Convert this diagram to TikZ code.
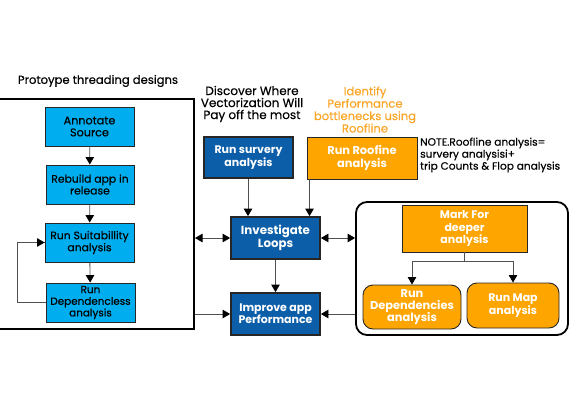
\documentclass[tikz,border=0pt]{standalone}
\usepackage{fontspec}
\setmainfont{Poppins}
\newfontfamily\med{Poppins}[FakeBold=0.4]
\usetikzlibrary{arrows.meta,positioning}
\definecolor{cyanbox}{RGB}{0,174,239}
\definecolor{darkblue}{RGB}{12,94,168}
\definecolor{orangebox}{RGB}{255,165,0}
\definecolor{orangetext}{RGB}{250,166,40}
\definecolor{conn}{RGB}{80,80,80}
\tikzset{
  tip/.tip={Triangle[width=8.5pt,length=7.5pt,color=black]},
  cbox/.style={draw=black!85, line width=0.9pt, fill=cyanbox, align=center, inner sep=0pt, text=black},
  dbox/.style={draw=black!85, line width=1.8pt, fill=darkblue, align=center, inner sep=0pt, text=white},
  obox/.style={draw=black!85, line width=0.9pt, fill=orangebox, align=center, inner sep=0pt, text=white},
  rbox/.style={obox, rounded corners=10pt},
  lbl/.style={align=center, inner sep=0pt},
  arr/.style={draw=conn, line width=0.8pt, -tip},
  darr/.style={draw=conn, line width=0.8pt, tip-tip},
  plain/.style={draw=conn, line width=0.8pt}
}
\begin{document}
\begin{tikzpicture}[x=1pt,y=-1pt]
\useasboundingbox (0,0) rectangle (570,420);
% left frame
\node[draw=black, line width=2pt, minimum width=200pt, minimum height=230pt, inner sep=0pt] (leftbox) at (94,214) {};
\node[lbl, font=\med\fontsize{11.6}{12}\selectfont] (ltitle) at (98,81) {Protoype threading designs};
\node[cbox, minimum width=89pt, minimum height=39pt, font=\med\fontsize{11.2}{12}\selectfont] (annot) at (89.5,126.5) {Annotate\\Source};
\node[cbox, minimum width=88pt, minimum height=39pt, font=\med\fontsize{10.8}{8}\selectfont] (rebuild) at (90,184.5) {Rebuild app in\\release};
\node[cbox, minimum width=89pt, minimum height=39pt, font=\med\fontsize{10.8}{8}\selectfont] (suit) at (89.5,242.5) {Run Suitabillity\\analysis};
\node[cbox, minimum width=89pt, minimum height=39pt, font=\med\fontsize{10.4}{11.6}\selectfont] (dep) at (90.5,302.5) {Run\\Dependencless\\analysis};
\draw[arr] (annot) -- (rebuild);
\draw[arr] (rebuild) -- (suit);
\draw[arr] (suit) -- (dep);
\draw[plain] (dep.west) -- ++(-28,0) coordinate (lp) |- (suit.west);
\draw[arr] (lp |- suit.west) -- (suit.west);
% middle
\node[lbl, font=\med\fontsize{12}{12}\selectfont] (disc) at (252,104) {Discover Where\\Vectorization Will\\Pay off the most};
\node[lbl, text=orangetext, font=\med\fontsize{11.6}{12.4}\selectfont] (ident) at (365,109.5) {Identify\\Performance\\bottlenecks using\\Roofline};
\node[dbox, minimum width=89pt, minimum height=41pt, font=\bfseries\fontsize{11}{12.7}\selectfont] (survey) at (248.5,157.5) {Run survery\\analysis};
\node[obox, minimum width=110pt, minimum height=42pt, font=\bfseries\fontsize{11.4}{13}\selectfont] (roof) at (362,158) {Run Roofine\\analysis};
\node[lbl, align=left, anchor=west, font=\med\fontsize{10.6}{12}\selectfont] (note) at (420,155) {NOTE.Roofline analysis=\\survery analysisi+\\trip Counts \& Flop analysis};
\node[dbox, minimum width=89pt, minimum height=42pt, font=\bfseries\fontsize{11.8}{12.7}\selectfont] (invest) at (275.5,238) {Investigate\\Loops};
\node[dbox, minimum width=89pt, minimum height=42pt, font=\bfseries\fontsize{11}{11.7}\selectfont] (improve) at (275.5,314) {Improve app\\Performance};
% right frame
\node[draw=black, line width=1.8pt, rounded corners=11pt, minimum width=212pt, minimum height=133pt, inner sep=0pt] (rightbox) at (462,268.5) {};
\node[obox, minimum width=125pt, minimum height=47pt, font=\bfseries\fontsize{11}{12.3}\selectfont] (mark) at (464.5,228.5) {Mark For\\deeper\\analysis};
\node[rbox, minimum width=98pt, minimum height=44pt, font=\bfseries\fontsize{11.4}{12.3}\selectfont] (dep2) at (412,307) {Run\\Dependencies\\analysis};
\node[rbox, minimum width=92pt, minimum height=45pt, font=\bfseries\fontsize{11}{11.7}\selectfont] (map) at (513,305.5) {Run Map\\analysis};
% connectors
\coordinate (sv) at ([xshift=-0.5pt]survey.south);
\draw[arr] (sv) -- (sv |- invest.north);
\coordinate (rf) at ([xshift=3pt]roof.south west);
\draw[arr] (rf) -- (rf |- invest.north);
\draw[darr] (leftbox.east |- invest.west) -- (invest.west);
\draw[darr] (invest.east) -- (rightbox.west |- invest.east);
\draw[arr] (invest) -- (improve);
\draw[arr] (leftbox.east |- improve.west) -- (improve.west);
\draw[arr] (rightbox.west |- improve.east) -- (improve.east);
\draw[plain] (mark.south) -- ++(0,9) coordinate (mk);
\draw[arr] (mk) -| (dep2.north);
\draw[arr] (mk) -| (map.north);
\end{tikzpicture}
\end{document}
